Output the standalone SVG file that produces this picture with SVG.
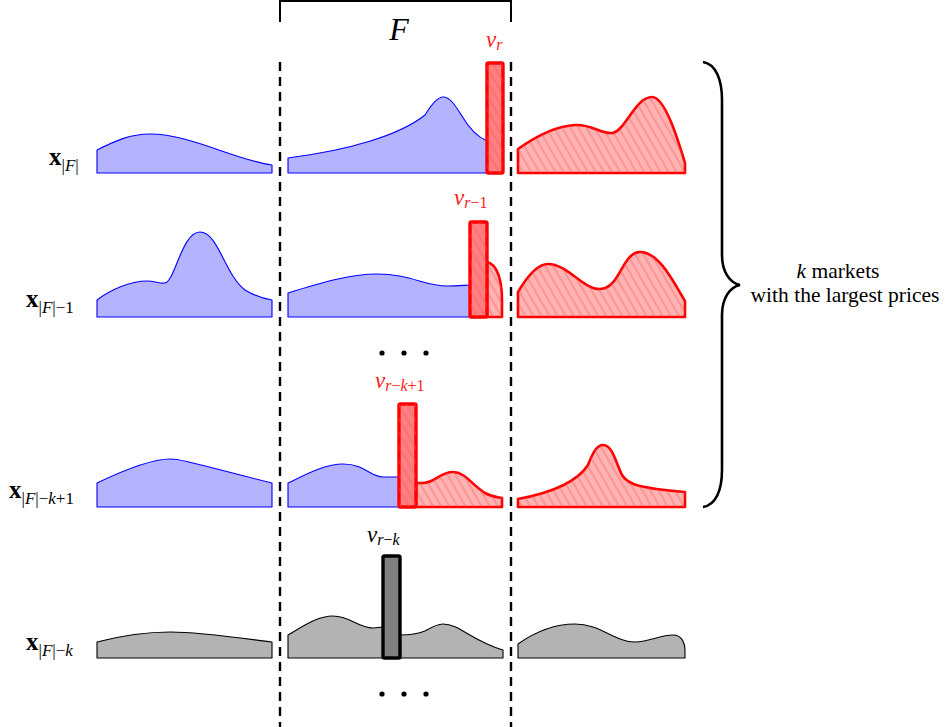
<svg xmlns="http://www.w3.org/2000/svg" width="946" height="727" viewBox="0 0 946 727">
<defs>
<pattern id="hatch" width="7" height="7" patternUnits="userSpaceOnUse" patternTransform="rotate(-30)">
<line x1="3" y1="-1" x2="3" y2="8" stroke="#ff5050" stroke-width="1.2" stroke-opacity="0.55"/>
</pattern>
<style>
.blue{fill:#b3b3ff;stroke:#0000ff;stroke-width:1.1;stroke-linejoin:round}
.gray{fill:#b3b3b3;stroke:#000;stroke-width:1.1;stroke-linejoin:round}
.redarea{stroke:#ff0000;stroke-width:2.6;stroke-linejoin:round}
.redbar{fill:#ff8080;stroke:#ff0000;stroke-width:3.4}
.graybar{fill:#808080;stroke:#000;stroke-width:3.4}
.dash{stroke:#000;stroke-width:2.4;stroke-dasharray:9 6;fill:none}
.t{font-family:"Liberation Serif","DejaVu Serif",serif}
.it{font-style:italic}
.lbl{font-family:"Liberation Serif","DejaVu Serif",serif;font-size:25px;fill:#000}
.sub{font-size:17px}
.redt{fill:#ff2020}
</style>
</defs>

<g id="frame">
<path d="M280,22 L280,1 L511,1 L511,22" fill="none" stroke="#000" stroke-width="2"/>
<text class="t it" x="399" y="40" font-size="32" text-anchor="middle">F</text>
</g>

<g id="connectors">
<line class="dash" x1="280" y1="62" x2="280" y2="727"/>
<line class="dash" x1="511" y1="62" x2="511" y2="727"/>
</g>

<g id="row1">
<text class="lbl" x="49" y="165"><tspan font-weight="bold">x</tspan><tspan class="sub" dy="6">|<tspan class="it">F</tspan>|</tspan></text>
<path class="blue" d="M97,173 L97,150 C115,141 130,134 150,134 C190,134 235,160 272,165 L272,173 Z"/>
<path class="blue" d="M288,173 L288,158 C350,150 400,135 425,115 C433,102 438,97 443,97 C450,97 455,105 462,116 C470,130 478,137 487,141 L487,173 Z"/>
<rect class="redbar" x="487" y="63" width="16" height="110" rx="1.5"/>
<rect x="487" y="63" width="16" height="110" fill="url(#hatch)"/>
<path class="redarea" fill="#ffb3b3" d="M518,173 L518,149 C535,137 555,126 575,125 C592,124 600,134 612,133 C625,132 635,97 652,97 C665,97 678,140 685,163 L685,173 Z"/>
<path fill="url(#hatch)" d="M518,173 L518,149 C535,137 555,126 575,125 C592,124 600,134 612,133 C625,132 635,97 652,97 C665,97 678,140 685,163 L685,173 Z"/>
<text class="t redt" x="486" y="47" font-size="23"><tspan class="it">v</tspan><tspan class="it" font-size="16" dy="3">r</tspan></text>
</g>

<g id="row2">
<text class="lbl" x="26" y="307"><tspan font-weight="bold">x</tspan><tspan class="sub" dy="6">|<tspan class="it">F</tspan>|−1</tspan></text>
<path class="blue" d="M97,317 L97,300 C110,290 130,281 147,281 C155,281 160,284 165,283 C175,281 182,232 200,232 C218,232 225,275 245,290 C255,296 265,299 272,300 L272,317 Z"/>
<path class="blue" d="M288,317 L288,293 C320,283 350,274 377,274 C410,274 425,286 447,286 C460,286 465,285 472,285 L472,317 Z"/>
<path class="redarea" fill="#ffb3b3" d="M487,317 L487,262 C497,264 502,280 502,300 L502,317 Z"/>
<path fill="url(#hatch)" d="M487,317 L487,262 C497,264 502,280 502,300 L502,317 Z"/>
<rect class="redbar" x="470" y="222" width="17" height="95" rx="1.5"/>
<rect x="470" y="222" width="17" height="95" fill="url(#hatch)"/>
<path class="redarea" fill="#ffb3b3" d="M518,317 L518,292 C528,275 538,264 548,264 C568,264 582,289 600,289 C620,289 622,252 640,252 C660,252 675,285 685,301 L685,317 Z"/>
<path fill="url(#hatch)" d="M518,317 L518,292 C528,275 538,264 548,264 C568,264 582,289 600,289 C620,289 622,252 640,252 C660,252 675,285 685,301 L685,317 Z"/>
<text class="t redt" x="454" y="205" font-size="23"><tspan class="it">v</tspan><tspan font-size="16" dy="3"><tspan class="it">r</tspan>−1</tspan></text>
</g>

<g id="dots1">
<circle cx="382" cy="353" r="2.6"/>
<circle cx="404" cy="353" r="2.6"/>
<circle cx="426" cy="353" r="2.6"/>
</g>

<g id="row3">
<text class="lbl" x="9" y="498"><tspan font-weight="bold">x</tspan><tspan class="sub" dy="6">|<tspan class="it">F</tspan>|−<tspan class="it">k</tspan>+1</tspan></text>
<path class="blue" d="M97,507 L97,483 C120,472 150,459 170,459 C182,459 200,465 272,483 L272,507 Z"/>
<path class="blue" d="M288,507 L288,483 C305,475 325,464 343,464 C365,464 370,477 383,477 L400,477 L400,507 Z"/>
<path class="redarea" fill="#ffb3b3" d="M416,507 L416,483 L423,483 C435,483 440,472 453,472 C465,472 472,485 485,493 C492,497 497,497 502,498 L502,507 Z"/>
<path fill="url(#hatch)" d="M416,507 L416,483 L423,483 C435,483 440,472 453,472 C465,472 472,485 485,493 C492,497 497,497 502,498 L502,507 Z"/>
<rect class="redbar" x="399" y="404" width="17" height="103" rx="1.5"/>
<rect x="399" y="404" width="17" height="103" fill="url(#hatch)"/>
<path class="redarea" fill="#ffb3b3" d="M518,507 L518,499 C545,494 575,485 588,465 C593,452 597,445 603,445 C612,445 615,460 622,475 C628,485 640,488 685,492 L685,507 Z"/>
<path fill="url(#hatch)" d="M518,507 L518,499 C545,494 575,485 588,465 C593,452 597,445 603,445 C612,445 615,460 622,475 C628,485 640,488 685,492 L685,507 Z"/>
<text class="t redt" x="375" y="388" font-size="23"><tspan class="it">v</tspan><tspan font-size="16" dy="3"><tspan class="it">r</tspan>−<tspan class="it">k</tspan>+1</tspan></text>
</g>

<g id="row4">
<text class="lbl" x="26" y="650"><tspan font-weight="bold">x</tspan><tspan class="sub" dy="6">|<tspan class="it">F</tspan>|−<tspan class="it">k</tspan></tspan></text>
<path class="gray" d="M97,658 L97,642 C120,636 145,632 170,632 C200,632 240,638 272,642 L272,658 Z"/>
<path class="gray" d="M288,658 L288,635 C305,625 318,616 333,616 C350,616 358,628 373,628 L383,627 L400,635 C412,635 420,633 425,631 C432,627 437,624 443,624 C460,624 470,640 503,650 L503,658 Z"/>
<rect class="graybar" x="383" y="556" width="17" height="102" rx="1.5"/>
<path class="gray" d="M518,658 L518,644 C535,632 555,624 575,624 C600,624 615,642 635,642 C650,642 660,635 673,635 C683,635 685,645 685,650 L685,658 Z"/>
<text class="t" x="367" y="542" font-size="23"><tspan class="it">v</tspan><tspan font-size="16" dy="3"><tspan class="it">r</tspan>−<tspan class="it">k</tspan></tspan></text>
</g>

<g id="dots2">
<circle cx="382" cy="694" r="2.6"/>
<circle cx="404" cy="694" r="2.6"/>
<circle cx="426" cy="694" r="2.6"/>
</g>

<g id="brace">
<path d="M703,62 C716,64 722,80 722,100 L722,255 C722,272 730,283 740,285 C730,287 722,298 722,315 L722,470 C722,490 716,505 703,507" fill="none" stroke="#000" stroke-width="2.6"/>
<text class="t" x="838" y="278" font-size="21.5" text-anchor="middle"><tspan class="it">k</tspan> markets</text>
<text class="t" x="845" y="302" font-size="21.5" text-anchor="middle">with the largest prices</text>
</g>
</svg>
